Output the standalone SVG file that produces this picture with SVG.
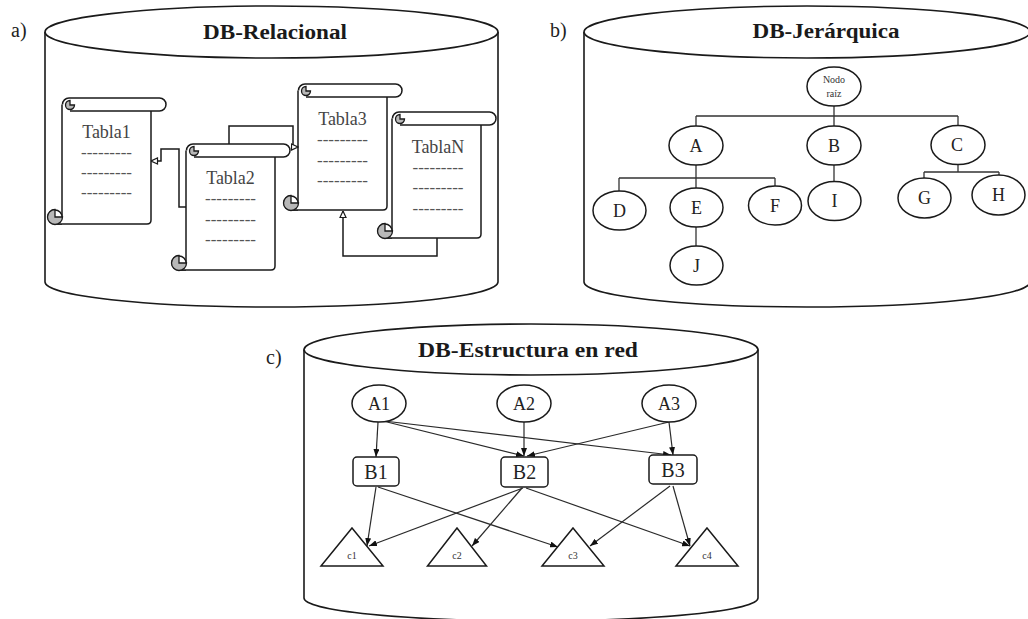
<svg xmlns="http://www.w3.org/2000/svg" xmlns:xlink="http://www.w3.org/1999/xlink" width="1028" height="619" viewBox="0 0 1028 619">
  <style>
    text { font-family: "Liberation Serif", "DejaVu Serif", serif; }
    .cyl { fill: #fff; stroke: #1a1a1a; stroke-width: 1.6; }
    .panel { font-size: 20px; fill: #222; }
    .title { font-size: 20px; font-weight: bold; fill: #1a1a1a; text-anchor: middle; }
    .scroll { fill: #fff; stroke: #1a1a1a; stroke-width: 1.5; stroke-linejoin: round; }
    .curl { fill: #b8b8b8; stroke: #1a1a1a; stroke-width: 1.3; }
    .tname { font-size: 18px; fill: #444; text-anchor: middle; }
    .dash { font-size: 17px; fill: #555; text-anchor: middle; }
    .rel { fill: none; stroke: #1a1a1a; stroke-width: 1.5; }
    .tree { fill: none; stroke: #333; stroke-width: 1.3; }
    .node { fill: #fff; stroke: #1a1a1a; stroke-width: 1.5; }
    .lbl { font-size: 18px; fill: #222; text-anchor: middle; }
    .lblb { font-size: 20px; fill: #222; text-anchor: middle; }
    .small { font-size: 10px; fill: #333; text-anchor: middle; }
    .edge { fill: none; stroke: #2a2a2a; stroke-width: 1.2; marker-end: url(#arrow); }
  </style>
  <defs>
    <marker id="openArrow" viewBox="0 0 8 8" refX="7.5" refY="4" markerWidth="8" markerHeight="8" orient="auto" markerUnits="userSpaceOnUse">
      <path d="M1,1 L7.5,4 L1,7 Z" fill="#fff" stroke="#1a1a1a" stroke-width="1.2"/>
    </marker>
    <marker id="arrow" viewBox="0 0 8 6" refX="8" refY="3" markerWidth="8" markerHeight="6" orient="auto" markerUnits="userSpaceOnUse">
      <path d="M0,0 L8,3 L0,6 Z" fill="#111"/>
    </marker>
    <!-- paper scroll: origin at body left edge / top of the roll -->
    <g id="scroll">
      <path class="scroll" d="M0,6.5 V119 M-7,126 H85 Q89,126 89,122 V13"/>
      <path class="scroll" d="M7,0 H97.5 A6.5,6.5 0 0 1 97.5,13 H8 M7,0 A6.5,6.5 0 0 0 0.5,6.5"/>
      <path class="scroll" d="M0,126 H-7 A7,7 0 1 1 0,119" fill="none"/>
      <path class="curl" d="M-7,119 V111.5 A7.5,7.5 0 1 0 0.5,119 Z"/>
      <path class="curl" d="M8,7 V2.5 A4.5,4.5 0 1 0 12.5,7 Z"/>
    </g>
  </defs>

  <!-- a) relational database -->
  <g id="cyl-relacional">
    <path class="cyl" d="M45,32 V282 A226.5,25 0 0 0 498,282 V32"/>
    <ellipse class="cyl" cx="271.5" cy="32" rx="226.5" ry="26"/>
    <text class="title" x="275" y="39" textLength="144" lengthAdjust="spacingAndGlyphs">DB-Relacional</text>
  </g>
  <text class="panel" x="11" y="37">a)</text>

  <g id="tabla1" transform="translate(62,98)">
    <use xlink:href="#scroll"/>
    <text class="tname" x="44.5" y="40">Tabla1</text>
    <text class="dash" x="44.5" y="60">---------</text>
    <text class="dash" x="44.5" y="80">---------</text>
    <text class="dash" x="44.5" y="100">---------</text>
  </g>
  <g id="tabla2" transform="translate(186,144)">
    <use xlink:href="#scroll"/>
    <text class="tname" x="44.5" y="40">Tabla2</text>
    <text class="dash" x="44.5" y="60">---------</text>
    <text class="dash" x="44.5" y="81">---------</text>
    <text class="dash" x="44.5" y="101">---------</text>
  </g>
  <g id="tabla3" transform="translate(298,84)">
    <use xlink:href="#scroll"/>
    <text class="tname" x="44.5" y="41">Tabla3</text>
    <text class="dash" x="44.5" y="61">---------</text>
    <text class="dash" x="44.5" y="82">---------</text>
    <text class="dash" x="44.5" y="102">---------</text>
  </g>
  <g id="tablaN" transform="translate(392,112)">
    <use xlink:href="#scroll"/>
    <text class="tname" x="46" y="41">TablaN</text>
    <text class="dash" x="46" y="61">---------</text>
    <text class="dash" x="46" y="81">---------</text>
    <text class="dash" x="46" y="102">---------</text>
  </g>

  <g id="rel-connectors">
    <path class="rel" d="M186,207 H179 V149 H161 V161 H151" marker-end="url(#openArrow)"/>
    <path class="rel" d="M229,144 V126 H293 V147 H298" marker-end="url(#openArrow)"/>
    <path class="rel" d="M437,238 V256 H343 V211" marker-end="url(#openArrow)"/>
  </g>

  <!-- b) hierarchical database -->
  <g id="cyl-jerarquica">
    <path class="cyl" d="M584,32 V282 A223,25 0 0 0 1030,282 V32"/>
    <ellipse class="cyl" cx="807" cy="32" rx="223" ry="26"/>
    <text class="title" x="826" y="38" textLength="147" lengthAdjust="spacingAndGlyphs">DB-Jerárquica</text>
  </g>
  <text class="panel" x="550" y="37">b)</text>

  <g id="tree-links">
    <path class="tree" d="M834,106 V126 M696,116 H958 M696,116 V126 M958,116 V126"/>
    <path class="tree" d="M696,165 V188 M619,178 H775 M619,178 V191 M775,178 V186"/>
    <path class="tree" d="M696,227 V246"/>
    <path class="tree" d="M834,165 V182"/>
    <path class="tree" d="M958,164 V172 M924,172 H999 M924,172 V178 M999,172 V175"/>
  </g>
  <g id="nodo-raiz">
    <ellipse class="node" cx="834" cy="86.5" rx="27" ry="19.5"/>
    <text class="small" x="834" y="83">Nodo</text>
    <text class="small" x="834" y="97">raíz</text>
  </g>
  <g id="node-A"><ellipse class="node" cx="696" cy="145.5" rx="27" ry="19.5"/><text class="lbl" x="696" y="151.5">A</text></g>
  <g id="node-B"><ellipse class="node" cx="834" cy="145.5" rx="27" ry="19.5"/><text class="lbl" x="834" y="151.5">B</text></g>
  <g id="node-C"><ellipse class="node" cx="958" cy="145" rx="27" ry="19.5"/><text class="lbl" x="957" y="151">C</text></g>
  <g id="node-D"><ellipse class="node" cx="619.5" cy="210.5" rx="26.5" ry="19.5"/><text class="lbl" x="619.5" y="216.5">D</text></g>
  <g id="node-E"><ellipse class="node" cx="696.5" cy="207.5" rx="26.5" ry="19.5"/><text class="lbl" x="696.5" y="213.5">E</text></g>
  <g id="node-F"><ellipse class="node" cx="775" cy="205.5" rx="26.5" ry="19.5"/><text class="lbl" x="775" y="211.5">F</text></g>
  <g id="node-I"><ellipse class="node" cx="834.5" cy="201" rx="26.5" ry="19.5"/><text class="lbl" x="834.5" y="207">I</text></g>
  <g id="node-G"><ellipse class="node" cx="924.5" cy="198" rx="26.5" ry="20"/><text class="lbl" x="924.5" y="204">G</text></g>
  <g id="node-H"><ellipse class="node" cx="998.5" cy="195" rx="26.5" ry="20"/><text class="lbl" x="998.5" y="201">H</text></g>
  <g id="node-J"><ellipse class="node" cx="696.5" cy="265.5" rx="26.5" ry="19.5"/><text class="lbl" x="696.5" y="271.5">J</text></g>

  <!-- c) network database -->
  <g id="cyl-red">
    <path class="cyl" d="M304,349.5 V598 A227,23 0 0 0 758,598 V349.5"/>
    <ellipse class="cyl" cx="531" cy="349.5" rx="227" ry="25.5"/>
    <text class="title" x="528" y="357" textLength="220" lengthAdjust="spacingAndGlyphs">DB-Estructura en red</text>
  </g>
  <text class="panel" x="266" y="364">c)</text>

  <g id="net-connectors">
    <line class="edge" x1="378" y1="422" x2="376" y2="457"/>
    <line class="edge" x1="383" y1="421" x2="524" y2="456"/>
    <line class="edge" x1="384" y1="421" x2="671" y2="455"/>
    <line class="edge" x1="524" y1="422" x2="524" y2="456"/>
    <line class="edge" x1="669" y1="422" x2="527" y2="456"/>
    <line class="edge" x1="669" y1="422" x2="673" y2="455"/>
    <line class="edge" x1="376" y1="487" x2="367" y2="546"/>
    <line class="edge" x1="378" y1="487" x2="558" y2="547"/>
    <line class="edge" x1="523" y1="488" x2="369" y2="546"/>
    <line class="edge" x1="522" y1="488" x2="472" y2="546"/>
    <line class="edge" x1="526" y1="488" x2="690" y2="546"/>
    <line class="edge" x1="670" y1="486" x2="590" y2="546"/>
    <line class="edge" x1="673" y1="486" x2="690" y2="546"/>
  </g>

  <g id="node-A1"><ellipse class="node" cx="379" cy="403.5" rx="27" ry="18.5"/><text class="lbl" x="379" y="410">A1</text></g>
  <g id="node-A2"><ellipse class="node" cx="524" cy="403.5" rx="27" ry="18.5"/><text class="lbl" x="524" y="410">A2</text></g>
  <g id="node-A3"><ellipse class="node" cx="669" cy="403.5" rx="27" ry="18.5"/><text class="lbl" x="669" y="410">A3</text></g>

  <g id="node-B1"><rect class="node" x="353" y="457" width="46" height="29" rx="4" stroke-width="1.3"/><text class="lblb" x="376" y="478.5">B1</text></g>
  <g id="node-B2"><rect class="node" x="501" y="457" width="47" height="30" rx="4" stroke-width="1.9"/><text class="lblb" x="524.5" y="479">B2</text></g>
  <g id="node-B3"><rect class="node" x="649" y="455" width="48" height="29" rx="4" stroke-width="1.3"/><text class="lblb" x="673" y="476.5">B3</text></g>

  <g id="node-c1"><path class="node" d="M352,528 L383,566 H321 Z"/><text class="small" x="352" y="559" font-size="11">c1</text></g>
  <g id="node-c2"><path class="node" d="M457,528 L486.5,566 H427.5 Z"/><text class="small" x="457" y="559" font-size="11">c2</text></g>
  <g id="node-c3"><path class="node" d="M573,528 L604,566 H542 Z"/><text class="small" x="573" y="559" font-size="11">c3</text></g>
  <g id="node-c4"><path class="node" d="M707,528 L738,566 H676 Z"/><text class="small" x="707" y="559" font-size="11">c4</text></g>
</svg>
